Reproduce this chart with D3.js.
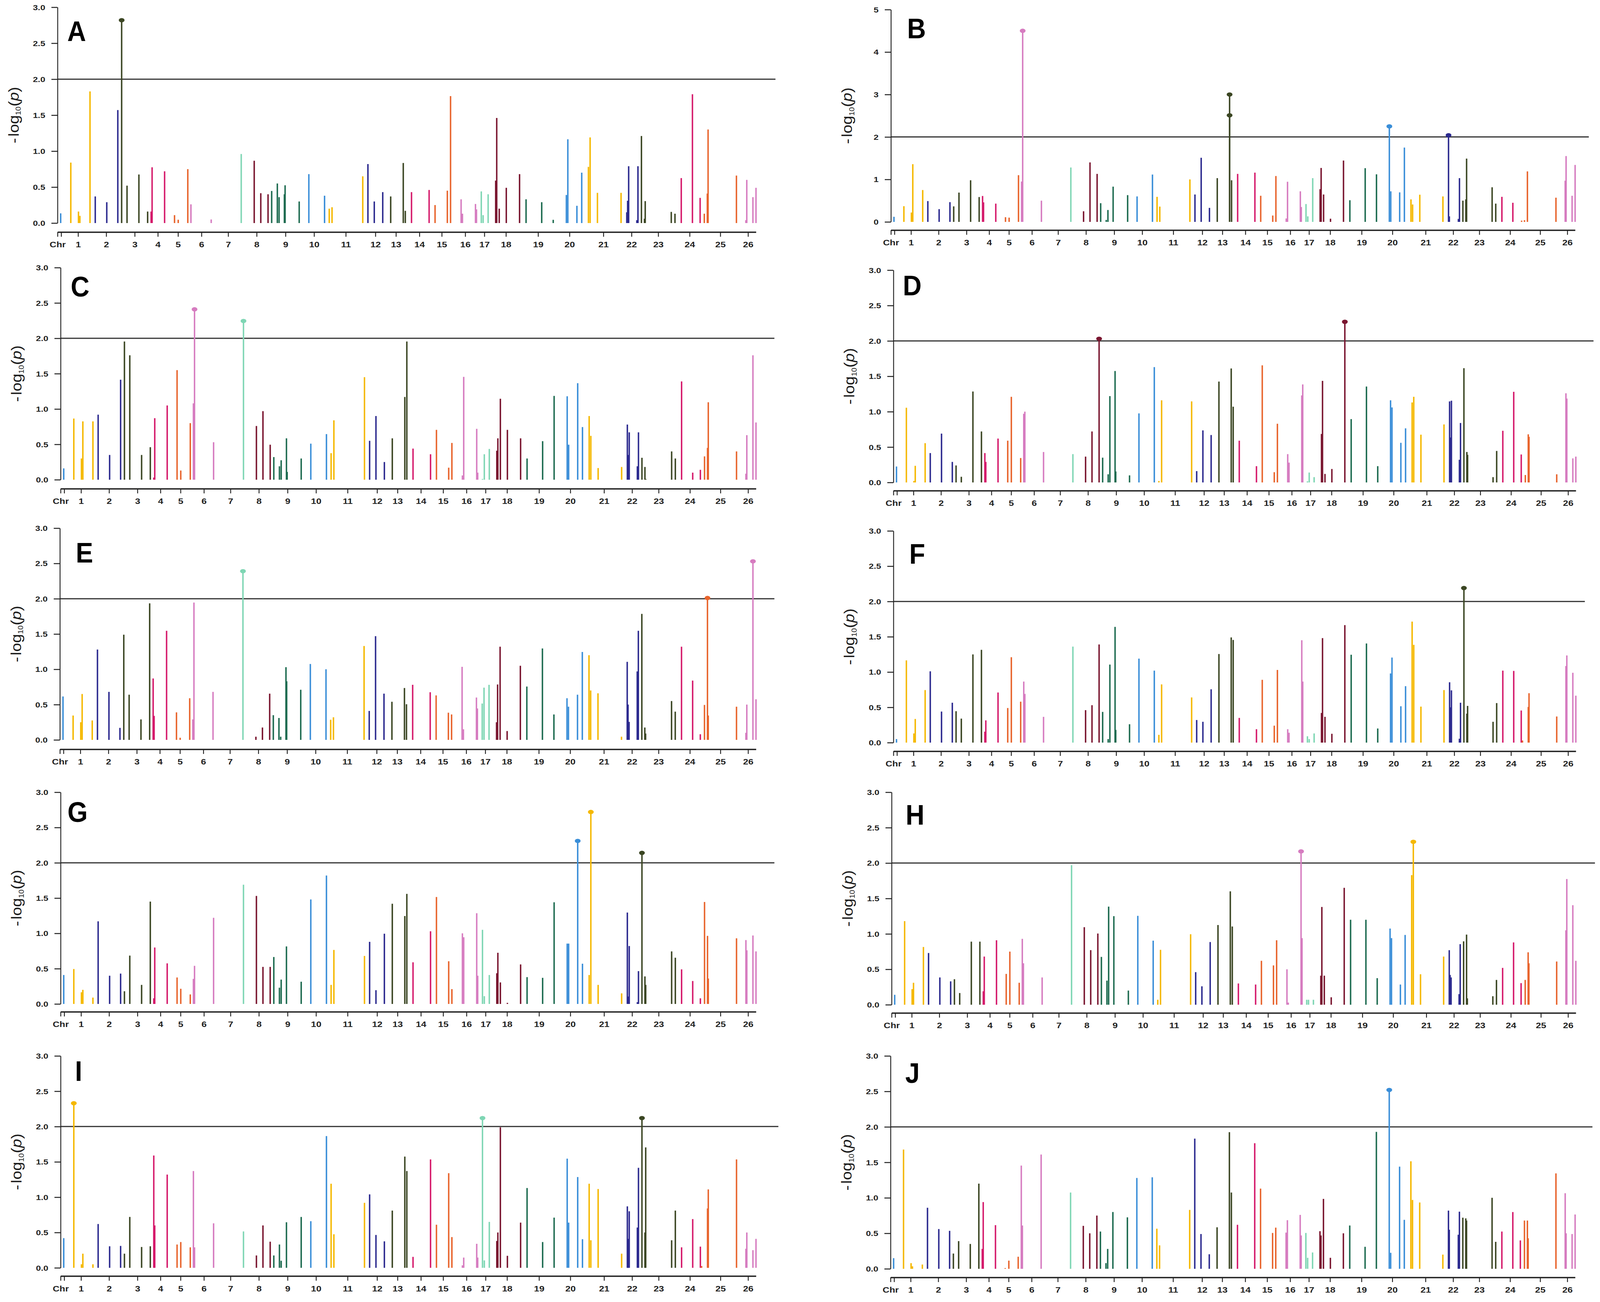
<!DOCTYPE html>
<html>
<head>
<meta charset="utf-8">
<script src="https://cdn.jsdelivr.net/npm/d3@7"></script>
<style>
  html, body { margin: 0; padding: 0; background: #fff; overflow: hidden; }
  svg { display: block; width: 100vw; height: 100vh; }
  text { font-family: "Liberation Sans", Arial, sans-serif; }
</style>
</head>
<body>
<svg id="fig" viewBox="0 0 4436 3333" preserveAspectRatio="none"></svg>
<script>
// chromosome axis: positions along the genome axis (0..1000) and their labels
const chrTickPos = [0, 5.2, 29.4, 69.7, 110.5, 143.6, 172.5, 206.1, 244.3, 285.1, 326.4, 367.3, 412.7,
  455.1, 484.5, 518.1, 550.1, 583.7, 611.1, 642.0, 688.0, 733.0, 781.5, 821.8, 860.0, 905.0, 948.9, 988.6];
const chrTickLabel = ["Chr", "", "1", "2", "3", "4", "5", "6", "7", "8", "9", "10", "11", "12", "13",
  "14", "15", "16", "17", "18", "19", "20", "21", "22", "23", "24", "25", "26"];

// markers (same set in every panel): chromosome and position on the axis
const markerChr = [0, 1, 1, 1, 1, 2, 2, 2, 3, 3, 3, 3, 4, 4, 4, 5, 5, 5, 6, 6, 6, 7, 8, 8, 8,
  9, 9, 9, 9, 9, 9, 10, 10, 11, 11, 11, 12, 12, 12, 13, 13, 13, 13, 14, 14, 15, 15, 15,
  16, 16, 16, 16, 17, 17, 17, 18, 18, 18, 18, 18, 19, 19, 19, 20, 20, 20, 20, 21, 21, 21, 21,
  22, 22, 22, 22, 22, 23, 23, 23, 23, 23, 24, 24, 24, 25, 25, 25, 25, 25, 26, 26, 26, 26];
const markerPos = [4.5, 19, 30, 32, 46.5, 54, 70.5, 86.3, 91.8, 99.5, 116.5, 129, 134, 135.4, 153.3,
  167.5, 172.8, 186.5, 191, 192.6, 220, 263, 281.6, 291, 301.4,
  306.6, 314.7, 317.2, 324.8, 325.8, 346, 359.8, 382.3, 389, 393, 437, 444.4, 453.5, 465.6,
  477, 495, 495, 497.9, 506.8, 532, 540.5, 558.1, 562.7,
  577.8, 579.7, 598.4, 599.8, 606.7, 609.3, 616.5, 627.3, 628.8, 632.4, 642.5, 661.5,
  670.8, 693.2, 709.7, 728.5, 730.6, 743.6, 750.5, 760.1, 762.5, 773, 806.8,
  815, 816.2, 817.7, 829.4, 831, 836, 840.3, 841.4, 878.7, 884, 893, 909, 920,
  921.8, 926, 930.3, 931.4, 972, 985.5, 986.8, 995.6, 1000];

// -log10(p) of each marker, one array per panel
const valuesA = [0.135, 0.84, 0.16, 0.10, 1.83, 0.37, 0.29, 1.57, 2.82, 0.52, 0.675, 0.16, 0.16, 0.775, 0.72,
  0.11, 0.046, 0.75, 0.26, 0, 0.05, 0.96, 0.866, 0.415, 0.40,
  0.446, 0.55, 0.36, 0.40, 0.525, 0.30, 0.68, 0.38, 0.20, 0.22, 0.65, 0.82, 0.30, 0.43,
  0.37, 0.835, 0, 0.17, 0.43, 0.46, 0.25, 0.45, 1.765,
  0.33, 0.13, 0.265, 0.19, 0.44, 0.11, 0.40, 0.59, 1.46, 0.20, 0.49, 0.68,
  0.33, 0.29, 0.045, 0.39, 1.165, 0.24, 0.70, 0.78, 1.19, 0.42, 0.42,
  0.15, 0.31, 0.79, 0.04, 0.79, 1.21, 0.06, 0.305, 0.155, 0.13, 0.625, 1.79, 0.35,
  0, 0.13, 0.41, 1.30, 0.66, 0.04, 0.60, 0.36, 0.49];
const valuesB = [0.12, 0.37, 0.22, 1.36, 0.75, 0.49, 0.30, 0.465, 0.365, 0.69, 0.98, 0.585, 0.61, 0.46, 0.43,
  0.11, 0.10, 1.10, 0.95, 4.5, 0.50, 1.28, 0.25, 1.40, 1.13,
  0.44, 0.045, 0.28, 0.83, 0, 0.63, 0.60, 1.115, 0.59, 0.36, 1.00, 0.645, 1.51, 0.33,
  1.03, 3.0, 2.51, 0.98, 1.13, 1.16, 0.615, 0.15, 1.08,
  0.08, 0.945, 0.72, 0.35, 0.42, 0.13, 1.03, 0.77, 1.27, 0.645, 0.075, 1.445,
  0.51, 1.265, 1.12, 2.25, 0.72, 0.695, 1.75, 0.53, 0.41, 0.64, 0.60,
  2.04, 0.13, 0, 0.07, 1.03, 0.50, 0.53, 1.49, 0.815, 0.43, 0.59, 0.45, 0,
  0.03, 0.04, 1.19, 0, 0.57, 0.97, 1.55, 0.615, 1.34];
const valuesC = [0.16, 0.865, 0.30, 0.825, 0.825, 0.92, 0.35, 1.415, 1.955, 1.76, 0.35, 0.46, 0.03, 0.87, 1.05,
  1.55, 0.13, 0.80, 1.08, 2.41, 0.53, 2.245, 0.76, 0.97, 0.495,
  0.32, 0.19, 0.275, 0.585, 0.11, 0.30, 0.51, 0.645, 0.375, 0.84, 1.45, 0.55, 0.90, 0.25,
  0.585, 1.17, 0, 1.955, 0.44, 0.36, 0.705, 0.17, 0.52,
  0.06, 1.455, 0.72, 0.10, 0.01, 0.36, 0.435, 0.41, 0.585, 1.145, 0.705, 0.585,
  0.30, 0.545, 1.185, 1.18, 0.495, 1.365, 0.745, 0.90, 0.62, 0.165, 0.18,
  0.78, 0.35, 0.67, 0.19, 0.67, 0.31, 0.18, 0.01, 0.40, 0.30, 1.39, 0.10, 0.14,
  0, 0.33, 0.45, 1.095, 0.40, 0.085, 0.63, 1.76, 0.81];
const valuesD = [0.225, 1.055, 0.02, 0.235, 0.555, 0.415, 0.69, 0.29, 0.24, 0.08, 1.285, 0.72, 0.415, 0.29, 0.62,
  0.59, 1.21, 0.345, 0.97, 1.0, 0.43, 0.40, 0.365, 0.72, 2.03,
  0.35, 0.115, 1.22, 1.575, 0.155, 0.10, 0.975, 1.63, 0.02, 1.16, 1.145, 0.16, 0.735, 0.67,
  1.425, 1.61, 0, 1.07, 0.59, 0.23, 1.655, 0.145, 0.83,
  0.40, 0.28, 1.23, 1.385, 0.015, 0.14, 0.075, 0.685, 1.435, 0.12, 0.19, 2.27,
  0.895, 1.355, 0.23, 1.16, 1.06, 0.56, 0.765, 1.13, 1.21, 0.675, 0.82,
  1.145, 0.635, 1.155, 0.32, 0.84, 1.615, 0.43, 0.39, 0.075, 0.445, 0.73, 1.28, 0.395,
  0, 0.105, 0.68, 0.645, 0.115, 1.26, 1.185, 0.34, 0.365];
const valuesE = [0.615, 0.345, 0.25, 0.65, 0.275, 1.28, 0.68, 0.17, 1.49, 0.64, 0.29, 1.935, 0.87, 0.34, 1.545,
  0.39, 0.03, 0.59, 0.29, 1.945, 0.68, 2.39, 0.045, 0.175, 0.655,
  0.35, 0.31, 0.045, 1.03, 0.83, 0.71, 1.075, 1.00, 0.285, 0.32, 1.33, 0.41, 1.47, 0.655,
  0.54, 0.735, 0, 0.505, 0.78, 0.675, 0.63, 0.385, 0.36,
  1.035, 0.15, 0.60, 0.445, 0.515, 0.74, 0.78, 0.25, 0.785, 1.32, 0.125, 1.05,
  0.755, 1.295, 0.36, 0.59, 0.47, 0.64, 1.245, 1.20, 0.70, 0.66, 0.045,
  1.105, 0.50, 0.255, 0.97, 1.545, 1.785, 0.175, 0.09, 0.55, 0.40, 1.32, 0.84, 0.08,
  0, 0.495, 2.01, 0.345, 0.47, 0.10, 0.50, 2.53, 0.575];
const valuesF = [0.05, 1.165, 0.13, 0.335, 0.745, 1.01, 0.44, 0.565, 0.445, 0.34, 1.25, 1.315, 0.155, 0.315, 0.71,
  0.49, 1.21, 0.58, 0.865, 0.69, 0.365, 1.36, 0.46, 0.53, 1.39,
  0.435, 0.05, 1.105, 1.64, 0.18, 0.26, 1.19, 1.02, 0.11, 0.825, 0.64, 0.32, 0.295, 0.755,
  1.255, 1.49, 0, 1.455, 0.35, 0.19, 0.89, 0.24, 1.03,
  0.19, 0.14, 1.45, 0.865, 0.09, 0.05, 0.13, 0.42, 1.48, 0.365, 0.125, 1.665,
  1.245, 1.405, 0.20, 0.98, 1.205, 0.515, 0.80, 1.715, 1.385, 0.51, 0.745,
  0.855, 0.50, 0.74, 0.055, 0.565, 2.19, 0.41, 0.52, 0.295, 0.56, 1.02, 1.015, 0.455,
  0.03, 0, 0.505, 0.70, 0.37, 1.085, 1.235, 0.99, 0.665];
const valuesG = [0.41, 0.495, 0.165, 0.20, 0.09, 1.17, 0.40, 0.43, 0.18, 0.685, 0.27, 1.45, 0.08, 0.80, 0.575,
  0.375, 0.215, 0.135, 0.355, 0.54, 1.22, 1.69, 1.53, 0.525, 0.525,
  0.665, 0.23, 0.345, 0.815, 0, 0.315, 1.48, 1.82, 0.27, 0.765, 0.68, 0.88, 0.195, 0.995,
  1.42, 1.245, 0, 1.56, 0.59, 1.03, 1.515, 0.605, 0.21,
  1.00, 0.945, 1.285, 0.40, 1.05, 0.11, 0.41, 0.435, 0.725, 0.305, 0.015, 0.56,
  0.38, 0.37, 1.44, 0.855, 0.855, 2.31, 0.57, 0.41, 2.72, 0.27, 0.15,
  1.295, 0.105, 0.82, 0.025, 0.465, 2.14, 0.39, 0.27, 0.745, 0.655, 0.49, 0.325, 0.08,
  0, 1.445, 0.965, 0.36, 0.93, 0.905, 0.76, 0.97, 0.745];
const valuesH = [0.14, 1.18, 0.22, 0.31, 0.815, 0.73, 0.385, 0.33, 0.36, 0.165, 0.89, 0.89, 0.19, 0.68, 0.91,
  0.435, 0.75, 0.31, 0.93, 0.585, 0.385, 1.97, 1.095, 0.77, 1.005,
  0.675, 0.34, 1.385, 1.25, 0, 0.20, 1.255, 0.905, 0.07, 0.775, 0.995, 0.46, 0.26, 0.885,
  1.125, 1.60, 0, 1.105, 0.30, 0.285, 0.62, 0.555, 0.91,
  0.50, 0.03, 2.165, 0.94, 0.07, 0.07, 0.07, 0.41, 1.38, 0.41, 0.105, 1.65,
  1.20, 1.20, 0.375, 1.075, 0.94, 0.285, 0.985, 1.83, 2.30, 0.43, 0.68,
  0.77, 0.42, 0.385, 0.15, 0.855, 0.895, 0.99, 0.09, 0.12, 0.35, 0.52, 0.88, 0.305,
  0, 0.35, 0.74, 0.585, 0.61, 1.05, 1.775, 1.405, 0.62];
const valuesI = [0.42, 2.33, 0.05, 0.20, 0.05, 0.62, 0.305, 0.31, 0.20, 0.72, 0.295, 0.305, 1.59, 0.60, 1.32,
  0.33, 0.365, 0.29, 1.37, 0.29, 0.63, 0.515, 0.175, 0.60, 0.37,
  0.175, 0.33, 0.10, 0.645, 0, 0.72, 0.66, 1.865, 1.19, 0.475, 0.92, 1.04, 0.465, 0.375,
  0.81, 1.575, 0, 1.37, 0.155, 1.535, 0.61, 1.34, 0.435,
  0.035, 0.145, 0.34, 0.145, 2.12, 0.105, 0.65, 0.38, 0.50, 1.99, 0.17, 0.64,
  1.13, 0.365, 0.71, 1.545, 0.64, 1.285, 0.405, 1.19, 0.39, 1.115, 0.20,
  0.87, 0.41, 0.80, 0.57, 1.415, 2.12, 0.50, 1.705, 0.39, 0.81, 0.29, 0.69, 0.30,
  0.025, 0, 0.84, 1.11, 1.535, 0.27, 0.50, 0.25, 0.41];
const valuesJ = [0.15, 1.68, 0.08, 0.035, 0.06, 0.86, 0.56, 0.535, 0.215, 0.39, 0.35, 1.20, 0.28, 0.94, 0.615,
  0.01, 0.115, 0.17, 1.455, 0.61, 1.61, 1.075, 0.605, 0.50, 0.75,
  0.525, 0.08, 0.28, 0.80, 0, 0.725, 1.28, 1.29, 0.565, 0.33, 0.83, 1.835, 0.49, 0.205,
  0.585, 1.925, 0, 1.075, 0.62, 1.77, 1.13, 0.505, 0.58,
  0.51, 0.685, 0.76, 0.47, 0.505, 0.155, 0.23, 0.53, 0.47, 0.985, 0.155, 0.50,
  0.61, 0.31, 1.93, 2.52, 0.225, 1.44, 0.69, 1.515, 0.97, 0.935, 0.20,
  0.82, 0.55, 0, 0.48, 0.805, 0.72, 0.71, 0.68, 1.00, 0.38, 0.525, 0.80, 0.40,
  0, 0.68, 0.68, 0.43, 1.345, 1.065, 0.50, 0.49, 0.765];

const panelNames = ["A", "B", "C", "D", "E", "F", "G", "H", "I", "J"];
const panelValues = [valuesA, valuesB, valuesC, valuesD, valuesE, valuesF, valuesG, valuesH, valuesI, valuesJ];
const panelYMax = [3, 5, 3, 3, 3, 3, 3, 3, 3, 3];
const threshold = 2;

// one colour per chromosome, cycling every ten
const palette = ["#3a8ed8", "#f5b800", "#2c2a8f", "#3b4623", "#d51a6b",
  "#e8642c", "#d67cc0", "#7fd6b4", "#7a1630", "#1d6b50"];

// where each panel sits on the page
const layout = [
  {axisX: 159.5, chrEnd: 2096, lineEnd: 2150, yTop: 18.5, yZero: 571, chrY: 594, lx: 27, ly: 87},
  {axisX: 2470, chrEnd: 4367, lineEnd: 4405, yTop: 24.5, yZero: 568, chrY: 589, lx: 45, ly: 74},
  {axisX: 168, chrEnd: 2096, lineEnd: 2147, yTop: 685, yZero: 1228, chrY: 1251, lx: 28, ly: 74},
  {axisX: 2477, chrEnd: 4369, lineEnd: 4418, yTop: 691.5, yZero: 1235, chrY: 1256, lx: 26, ly: 65},
  {axisX: 166, chrEnd: 2096, lineEnd: 2147, yTop: 1352, yZero: 1894, chrY: 1918, lx: 44, ly: 88},
  {axisX: 2477, chrEnd: 4369, lineEnd: 4394, yTop: 1359, yZero: 1901, chrY: 1923, lx: 44, ly: 84},
  {axisX: 168, chrEnd: 2096, lineEnd: 2147, yTop: 2028, yZero: 2570, chrY: 2590, lx: 19, ly: 76},
  {axisX: 2472, chrEnd: 4369, lineEnd: 4422, yTop: 2028, yZero: 2572, chrY: 2593, lx: 39, ly: 83},
  {axisX: 168, chrEnd: 2096, lineEnd: 2158, yTop: 2703, yZero: 3245.5, chrY: 3266.5, lx: 40, ly: 64},
  {axisX: 2469, chrEnd: 4367, lineEnd: 4415, yTop: 2703, yZero: 3248, chrY: 3270, lx: 41, ly: 69}
];

const svg = d3.select("#fig");
svg.append("rect").attr("width", 4436).attr("height", 3333).attr("fill", "#fff");

panelNames.forEach((name, i) => {
  const L = layout[i];
  const vals = panelValues[i];
  const yMax = panelYMax[i];
  const g = svg.append("g");

  const x = d3.scaleLinear().domain([0, 1000]).range([L.axisX, L.chrEnd]);
  const y = d3.scaleLinear().domain([0, yMax]).range([L.yZero, L.yTop]);

  const pts = markerPos.map((p, k) => ({pos: p, chr: markerChr[k], v: vals[k]}))
    .filter(d => d.v > 0)
    .sort((a, b) => b.v - a.v);

  // significance line
  g.append("line")
    .attr("x1", L.axisX).attr("x2", L.lineEnd)
    .attr("y1", y(threshold)).attr("y2", y(threshold))
    .attr("stroke", "#333").attr("stroke-width", 3);

  // stems
  g.selectAll(".stem").data(pts).enter().append("line")
    .attr("class", "stem")
    .attr("x1", d => x(d.pos)).attr("x2", d => x(d.pos))
    .attr("y1", y(0)).attr("y2", d => y(d.v))
    .attr("stroke", d => palette[d.chr % 10])
    .attr("stroke-width", 4);

  // heads on the significant ones
  g.selectAll(".head").data(pts.filter(d => d.v > threshold)).enter().append("ellipse")
    .attr("class", "head")
    .attr("cx", d => x(d.pos)).attr("cy", d => y(d.v))
    .attr("rx", 8).attr("ry", 5.5)
    .attr("fill", d => palette[d.chr % 10]);

  // y axis
  const yTicks = yMax === 5 ? d3.range(0, 6) : d3.range(0, 3.01, 0.5);
  const yAxis = g.append("g")
    .attr("transform", `translate(${L.axisX},0)`)
    .call(d3.axisLeft(y).tickValues(yTicks)
      .tickFormat(yMax === 5 ? d3.format("d") : d3.format(".1f"))
      .tickSize(17).tickSizeOuter(0).tickPadding(0));
  yAxis.select(".domain").attr("stroke", "#222").attr("stroke-width", 2.5);
  yAxis.selectAll(".tick line").attr("stroke", "#222").attr("stroke-width", 2.5);
  yAxis.selectAll(".tick text")
    .attr("x", -34 / 1.3).attr("dy", "0.35em")
    .attr("transform", "scale(1.3,1)")
    .attr("font-size", 19).attr("font-weight", "bold").attr("fill", "#222")
    .attr("font-family", "'Liberation Sans', Arial, sans-serif");

  // chromosome axis
  const xAxis = g.append("g")
    .attr("transform", `translate(0,${L.chrY})`)
    .call(d3.axisBottom(x).tickValues(chrTickPos)
      .tickFormat((d, k) => chrTickLabel[k])
      .tickSize(12).tickSizeOuter(0).tickPadding(13));
  xAxis.select(".domain").attr("stroke", "#222").attr("stroke-width", 3.5);
  xAxis.selectAll(".tick line").attr("stroke", "#222").attr("stroke-width", 2.5);
  xAxis.selectAll(".tick text")
    .attr("transform", "scale(1.3,1)")
    .attr("x", 0)
    .attr("font-size", 20).attr("font-weight", "bold").attr("fill", "#222")
    .attr("font-family", "'Liberation Sans', Arial, sans-serif");

  // y title: -log10(p)
  const cy = (L.yTop + L.yZero) / 2;
  const title = g.append("text")
    .attr("transform", `translate(${L.axisX - 108},${cy}) rotate(-90)`)
    .attr("text-anchor", "middle")
    .attr("font-size", 41).attr("fill", "#1a1a1a");
  title.append("tspan").text("-");
  title.append("tspan").attr("dx", 4).text("log");
  title.append("tspan").attr("font-size", 20).attr("dy", 6).text("10");
  title.append("tspan").attr("dy", -6).text("(");
  title.append("tspan").attr("font-style", "italic").text("p");
  title.append("tspan").text(")");

  // panel letter
  g.append("text")
    .attr("x", L.axisX + L.lx).attr("y", L.yTop + L.ly)
    .attr("font-size", 72).attr("font-weight", "bold").attr("fill", "#000")
    .text(name);
});
</script>
</body>
</html>
